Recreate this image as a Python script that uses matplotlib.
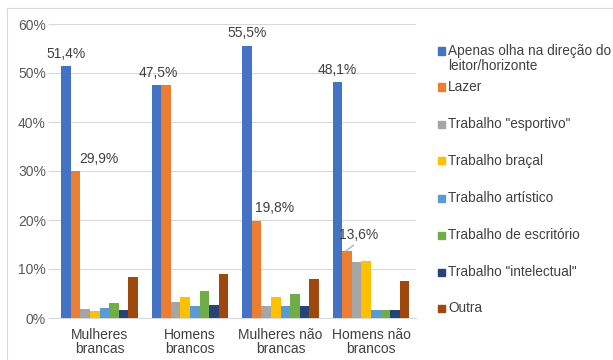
import matplotlib.pyplot as plt
import numpy as np
from matplotlib.patches import Rectangle

plt.rcParams['font.family'] = ['Liberation Sans', 'DejaVu Sans']

grupos = ["Mulheres\nbrancas", "Homens\nbrancos", "Mulheres não\nbrancas", "Homens não\nbrancos"]
series = ["Apenas olha na direção do\nleitor/horizonte", "Lazer", 'Trabalho "esportivo"',
          "Trabalho braçal", "Trabalho artístico", "Trabalho de escritório",
          'Trabalho "intelectual"', "Outra"]
cores = ["#4472C4", "#ED7D31", "#A5A5A5", "#FFC000", "#5B9BD5", "#70AD47", "#264478", "#9E480E"]

# percentuais por grupo (linhas = séries, colunas = grupos)
apenas_olha = [51.4, 47.5, 55.5, 48.1]
lazer = [29.9, 47.5, 19.8, 13.6]
esportivo = [1.8, 3.3, 2.5, 11.4]
bracal = [1.4, 4.2, 4.3, 11.6]
artistico = [2.0, 2.4, 2.5, 1.6]
escritorio = [3.1, 5.5, 4.9, 1.6]
intelectual = [1.6, 2.6, 2.5, 1.6]
outra = [8.4, 9.0, 8.0, 7.6]
valores = [apenas_olha, lazer, esportivo, bracal, artistico, escritorio, intelectual, outra]

W, H = 613, 360
fig = plt.figure(figsize=(W / 100, H / 100), dpi=100)
ax = fig.add_axes([54.25 / W, 1 - 318 / H, 362 / W, 294 / H])

x = np.arange(len(grupos))
w = 0.105
for i, (vals, cor) in enumerate(zip(valores, cores)):
    pos = x + (i - 3.5) * w
    ax.bar(pos, np.array(vals) / 100, w, color=cor, zorder=3)

# rótulos de dados (série azul e laranja)
def rotulo(serie, g, texto, dx, dy):
    xb = x[g] + (serie - 3.5) * w
    yb = valores[serie][g] / 100
    ax.annotate(texto, (xb, yb), xytext=(dx, dy), textcoords="offset points",
                ha="center", va="bottom", fontsize=10, color="#404040")

rotulo(0, 0, "51,4%", 0, 4)
rotulo(1, 0, "29,9%", 17, 4)
rotulo(0, 1, "47,5%", 1, 4)
rotulo(0, 2, "55,5%", 0, 4)
rotulo(1, 2, "19,8%", 12.5, 4)
rotulo(0, 3, "48,1%", 0, 4)

# 13,6% deslocado, com linha de chamada até a barra
xo = x[3] + (1 - 3.5) * w - w * 0.2
rotulo(1, 3, "13,6%", 8, 7)
ax.annotate("", (xo, lazer[3] / 100), xytext=(6, 4.5), textcoords="offset points", zorder=5,
            arrowprops=dict(arrowstyle="-", color="#A6A6A6", lw=0.8, shrinkA=0, shrinkB=0))

ax.set_xlim(-0.5, 3.5)
ax.set_ylim(0, 0.6)
ax.set_yticks(np.arange(0, 0.61, 0.1))
ax.set_yticklabels([f"{int(v)}%" for v in np.arange(0, 61, 10)])
ax.set_xticks(x)
ax.set_xticklabels(grupos, linespacing=1.05)
ax.tick_params(axis="x", length=0, pad=7, labelsize=10, colors="#404040")
ax.tick_params(axis="y", length=4, width=0.8, color="#D9D9D9", pad=2, labelsize=10, labelcolor="#595959")
ax.grid(axis="y", color="#D9D9D9", lw=0.8, zorder=0)
for s in ["top", "right", "left"]:
    ax.spines[s].set_visible(False)
ax.spines["bottom"].set_color("#D9D9D9")

# legenda à direita
leg_y = [51, 87, 124, 161, 198, 235, 272, 308]
for nome, cor, yp in zip(series, cores, leg_y):
    fig.patches.append(Rectangle((438 / W, 1 - (yp + 3.5) / H), 7 / W, 7 / H,
                                 transform=fig.transFigure, color=cor))
    fig.text(448 / W, 1 - (yp - 7) / H, nome, fontsize=9.8, color="#404040",
             va="top", ha="left", linespacing=1.05)

fig.patches.append(Rectangle((7 / W, -0.05), 1.2, 1.05 - 8 / H, transform=fig.transFigure,
                             fill=False, edgecolor="#D9D9D9", lw=0.8))

fig.savefig("out.png", dpi=100)
